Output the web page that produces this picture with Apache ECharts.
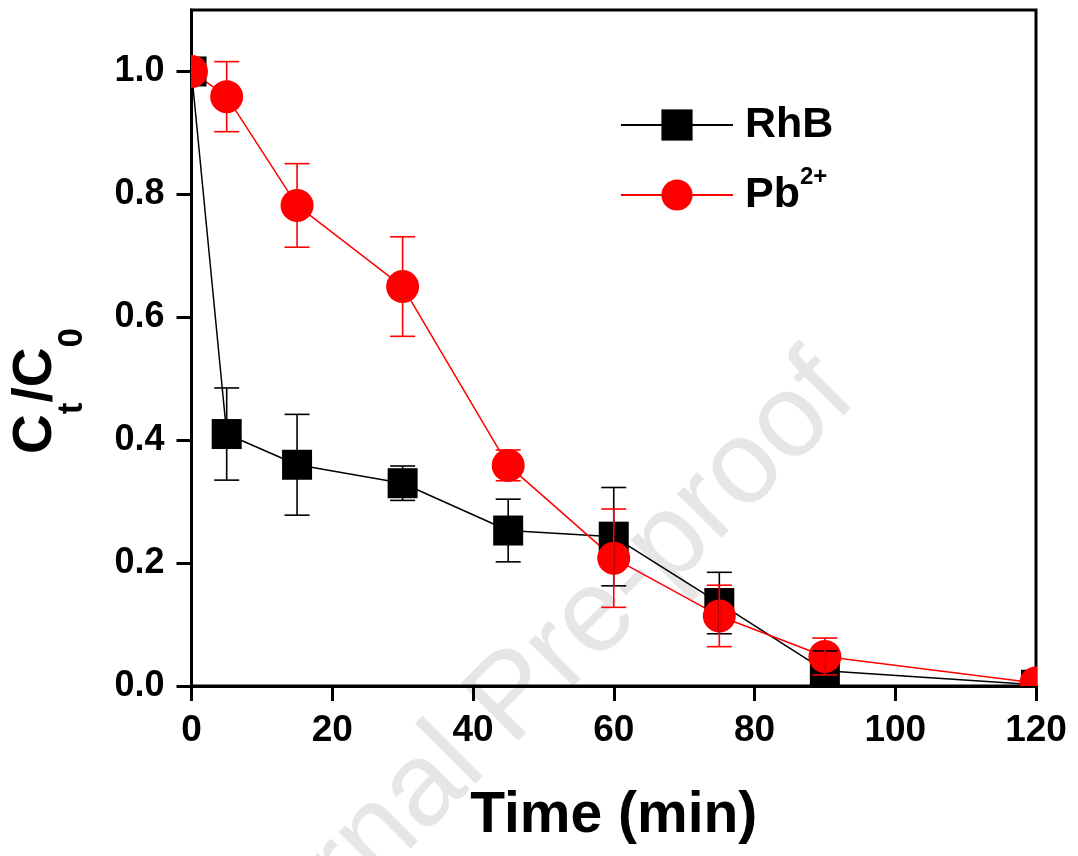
<!DOCTYPE html>
<html><head><meta charset="utf-8">
<script src="https://cdn.jsdelivr.net/npm/echarts@6/dist/echarts.min.js"></script>
<style>html,body{margin:0;padding:0;background:#fff}#c{width:1078px;height:856px}</style>
</head><body><div id="c"></div>
<script>
const time = [0, 5, 15, 30, 45, 60, 75, 90, 120];
const rhb = [1.0, 0.41, 0.36, 0.33, 0.253, 0.243, 0.135, 0.025, 0.002];
const rhbErr = [0, 0.075, 0.082, 0.028, 0.051, 0.08, 0.05, 0.032, 0];
const pb = [1.0, 0.959, 0.782, 0.650, 0.359, 0.208, 0.114, 0.048, 0.005];
const pbErr = [0, 0.057, 0.068, 0.081, 0.025, 0.08, 0.05, 0.03, 0];
const yTicks = [0, 0.2, 0.4, 0.6, 0.8, 1.0];
const seriesNames = ['RhB', 'Pb2+'];

const FF = '"Liberation Sans", Arial, sans-serif';
const chart = echarts.init(document.getElementById('c'), null, {renderer: 'canvas'});

function pts(vals) { return time.map((t, i) => [t, vals[i]]); }
function errPts(vals, errs) { return time.map((t, i) => [t, vals[i], errs[i]]); }

function markerSeries(vals, shape, size, color, z) {
  return {
    type: 'custom', clip: true, z: z, silent: true,
    encode: {x: 0, y: 1},
    data: pts(vals),
    renderItem: function (params, api) {
      const p = api.coord([api.value(0), api.value(1)]);
      if (shape === 'rect') {
        return {type: 'rect', shape: {x: p[0] - size / 2, y: p[1] - size / 2, width: size, height: size}, style: {fill: color}};
      }
      return {type: 'circle', shape: {cx: p[0], cy: p[1], r: size / 2}, style: {fill: color}};
    }
  };
}
function errSeries(vals, errs, color, z) {
  return {
    type: 'custom', clip: true, z: z, silent: true,
    encode: {x: 0, y: 1},
    data: errPts(vals, errs),
    renderItem: function (params, api) {
      const x = api.value(0), y = api.value(1), e = api.value(2);
      if (!e) return;
      const t = api.coord([x, y + e]), b = api.coord([x, y - e]);
      const w = 12.5;
      const st = {stroke: color, lineWidth: 1.6};
      return {type: 'group', children: [
        {type: 'line', shape: {x1: t[0], y1: t[1], x2: b[0], y2: b[1]}, style: st},
        {type: 'line', shape: {x1: t[0] - w, y1: t[1], x2: t[0] + w, y2: t[1]}, style: st},
        {type: 'line', shape: {x1: b[0] - w, y1: b[1], x2: b[0] + w, y2: b[1]}, style: st}
      ]};
    }
  };
}

const option = {
  animation: false,
  backgroundColor: '#fff',
  graphic: [{
    type: 'text', z: -10, silent: true,
    x: 514, y: 699, rotation: 45 * Math.PI / 180,
    style: {text: 'Journal Pre-proof', font: '118px ' + FF, fill: '#e6e6e6', align: 'center', verticalAlign: 'middle'}
  }],
  grid: {left: 190, right: 42, top: 10, bottom: 170, show: true, borderColor: '#000', borderWidth: 3, backgroundColor: 'transparent'},
  legend: [
    {
      data: [seriesNames[0]], orient: 'vertical', left: 620, top: 103.5, padding: 0,
      itemWidth: 112, itemHeight: 39,
      textStyle: {fontFamily: FF, fontSize: 43, fontWeight: 'bold', color: '#000', lineHeight: 39, padding: [0, 0, 0, 7]}
    },
    {
      data: [seriesNames[1]], orient: 'vertical', left: 620, top: 165, padding: 0,
      itemWidth: 112, itemHeight: 39,
      formatter: function () { return '{b|Pb}{s|2+}'; },
      textStyle: {
        fontFamily: FF, fontSize: 43, fontWeight: 'bold', color: '#000', padding: [0, 0, 0, 7],
        rich: {
          b: {fontFamily: FF, fontSize: 43, fontWeight: 'bold', color: '#000', lineHeight: 60},
          s: {fontFamily: FF, fontSize: 24, fontWeight: 'bold', color: '#000', verticalAlign: 'top'}
        }
      }
    }
  ],
  xAxis: {
    type: 'value', min: 0, max: 120, interval: 20,
    name: 'Time (min)', nameLocation: 'middle', nameGap: 102,
    nameTextStyle: {fontFamily: FF, fontSize: 57, fontWeight: 'bold', color: '#000'},
    axisLine: {show: true, lineStyle: {color: '#000', width: 3}},
    axisTick: {show: true, inside: false, length: 15, lineStyle: {color: '#000', width: 3}},
    axisLabel: {fontFamily: FF, fontSize: 37, fontWeight: 'bold', color: '#000', margin: 26},
    splitLine: {show: false}
  },
  yAxis: {
    type: 'value', min: 0, max: 1.1, interval: 0.2,
    name: '{a|C}{s|t}{a|/C}{s|0}', nameLocation: 'middle', nameRotate: 90, nameGap: 102,
    nameTextStyle: {
      padding: [0, 86, 0, 0],
      rich: {
        a: {fontFamily: FF, fontSize: 55, fontWeight: 'bold', color: '#000', lineHeight: 108},
        s: {fontFamily: FF, fontSize: 35, fontWeight: 'bold', color: '#000', verticalAlign: 'bottom'}
      }
    },
    axisLine: {show: true, lineStyle: {color: '#000', width: 3}},
    axisTick: {show: true, inside: false, length: 15, customValues: yTicks, lineStyle: {color: '#000', width: 3}},
    axisLabel: {fontFamily: FF, fontSize: 36, fontWeight: 'bold', color: '#000', margin: 27, customValues: yTicks,
      formatter: v => v.toFixed(1)},
    splitLine: {show: false}
  },
  series: [
    {name: seriesNames[0], type: 'line', data: pts(rhb), symbol: 'rect', showSymbol: false, z: 2,
      lineStyle: {color: '#000', width: 1.5}, itemStyle: {color: '#000'}},
    {name: seriesNames[1], type: 'line', data: pts(pb), symbol: 'circle', showSymbol: false, z: 3,
      lineStyle: {color: '#ff0000', width: 1.5}, itemStyle: {color: '#ff0000'}},
    markerSeries(rhb, 'rect', 30, '#000', 4),
    markerSeries(pb, 'circle', 33, '#ff0000', 5),
    errSeries(rhb, rhbErr, '#000', 6),
    errSeries(pb, pbErr, '#ff0000', 7)
  ]
};
chart.setOption(option);
</script>
</body></html>
